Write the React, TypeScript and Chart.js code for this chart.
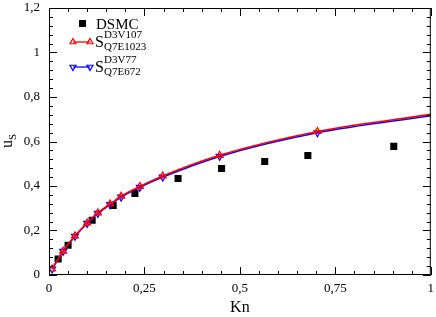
import React, { useEffect, useRef } from "react";
import { Chart, registerables } from "chart.js";

Chart.register(...registerables);

const dsmcKn = [0.024, 0.05, 0.113, 0.168, 0.225, 0.338, 0.452, 0.565, 0.678, 0.903];
const dsmcUs = [0.072, 0.134, 0.246, 0.313, 0.367, 0.434, 0.479, 0.51, 0.537, 0.578];

const redKn = [0.008, 0.037, 0.068, 0.1, 0.128, 0.16, 0.189, 0.238, 0.298, 0.447, 0.703, 1.0];
const redUs = [0.027, 0.107, 0.176, 0.234, 0.279, 0.319, 0.354, 0.398, 0.445, 0.538, 0.645, 0.722];

const blueKn = [0.008, 0.037, 0.068, 0.1, 0.128, 0.16, 0.189, 0.238, 0.298, 0.447, 0.703, 1.0];
const blueUs = [0.027, 0.106, 0.174, 0.232, 0.277, 0.316, 0.35, 0.394, 0.44, 0.533, 0.639, 0.716];

const xTicks = [0, 0.25, 0.5, 0.75, 1];
const yTicks = [0, 0.2, 0.4, 0.6, 0.8, 1, 1.2];

const FONT = '"Liberation Serif", "Times New Roman", serif';

const fmt = (v: number) => Number(v.toFixed(2)).toString().replace(".", ",");

function tri(ctx: CanvasRenderingContext2D, x: number, y: number, r: number, down: boolean) {
  const h = r * 1.5;
  const w = r * Math.sqrt(3);
  ctx.beginPath();
  if (!down) {
    ctx.moveTo(x, y - r);
    ctx.lineTo(x + w / 2, y + h - r);
    ctx.lineTo(x - w / 2, y + h - r);
  } else {
    ctx.moveTo(x, y + r);
    ctx.lineTo(x + w / 2, y - h + r);
    ctx.lineTo(x - w / 2, y - h + r);
  }
  ctx.closePath();
  ctx.stroke();
}

const framePlugin = {
  id: "frame",
  afterDraw(chart: any) {
    const ctx: CanvasRenderingContext2D = chart.ctx;
    const { left, right, top, bottom } = chart.chartArea;
    const xs = chart.scales.x;
    const ys = chart.scales.y;
    ctx.save();
    ctx.strokeStyle = "#000";
    ctx.lineWidth = 1;
    ctx.strokeRect(left + 0.5, top + 0.5, right - left - 1, bottom - top - 1);
    ctx.beginPath();
    for (let i = 0; i <= 20; i++) {
      const v = i * 0.05;
      const major = i % 5 === 0;
      const len = major ? 8 : 4;
      const px = Math.round(xs.getPixelForValue(v)) + 0.5;
      ctx.moveTo(px, bottom);
      ctx.lineTo(px, bottom - len);
      ctx.moveTo(px, top);
      ctx.lineTo(px, top + len);
    }
    for (let i = 0; i <= 30; i++) {
      const v = i * 0.04;
      const major = i % 5 === 0;
      const len = major ? 8 : 4;
      const py = Math.round(ys.getPixelForValue(v)) + 0.5;
      ctx.moveTo(left, py);
      ctx.lineTo(left + len, py);
      ctx.moveTo(right, py);
      ctx.lineTo(right - len, py);
    }
    ctx.stroke();

    // Y axis title u_S
    ctx.save();
    ctx.translate(12, 142);
    ctx.rotate(-Math.PI / 2);
    ctx.fillStyle = "#000";
    ctx.textBaseline = "alphabetic";
    ctx.textAlign = "left";
    ctx.font = `16px ${FONT}`;
    ctx.fillText("u", -6, 0);
    const uw = ctx.measureText("u").width;
    ctx.font = `11px ${FONT}`;
    ctx.fillText("S", -6 + uw, 4);
    ctx.restore();

    // Legend
    ctx.fillStyle = "#000";
    ctx.textAlign = "left";
    ctx.textBaseline = "alphabetic";
    ctx.fillRect(79, 20, 7, 7);
    ctx.font = `15px ${FONT}`;
    ctx.fillText("DSMC", 96, 29);

    const entries = [
      { color: "#ff0000", y: 42, base: 47, sup: "D3V107", sub: "Q7E1023", down: false },
      { color: "#0000ff", y: 67, base: 72, sup: "D3V77", sub: "Q7E672", down: true },
    ];
    for (const e of entries) {
      ctx.strokeStyle = e.color;
      ctx.lineWidth = 1.3;
      ctx.beginPath();
      ctx.moveTo(73, e.y);
      ctx.lineTo(90, e.y);
      ctx.stroke();
      ctx.lineWidth = 1.2;
      tri(ctx, 73, e.y, 3.5, e.down);
      tri(ctx, 90, e.y, 3.5, e.down);
      ctx.fillStyle = "#000";
      ctx.font = `16px ${FONT}`;
      ctx.fillText("S", 95, e.base);
      ctx.font = `11px ${FONT}`;
      ctx.fillText(e.sup, 104, e.base - 9);
      ctx.fillText(e.sub, 104, e.base + 3);
    }
    ctx.restore();
  },
};

export default function App() {
  const ref = useRef<HTMLCanvasElement | null>(null);
  useEffect(() => {
    document.body.style.margin = "0";
    const canvas = ref.current!;
    const markerR = (n: number) => redKn.map((_, i) => (i === n - 1 ? 0 : 4));
    const chart = new Chart(canvas, {
      type: "scatter",
      data: {
        datasets: [
          {
            label: "red",
            data: redKn.map((x, i) => ({ x, y: redUs[i] })),
            showLine: true,
            borderColor: "#ff0000",
            borderWidth: 1.6,
            backgroundColor: "rgba(255,255,255,0)",
            pointBorderColor: "#ff0000",
            pointBorderWidth: 1.2,
            pointStyle: "triangle",
            pointRadius: markerR(redKn.length),
            cubicInterpolationMode: "monotone",
          } as any,
          {
            label: "blue",
            data: blueKn.map((x, i) => ({ x, y: blueUs[i] })),
            showLine: true,
            borderColor: "#0000ff",
            borderWidth: 1.6,
            backgroundColor: "rgba(255,255,255,0)",
            pointBorderColor: "#0000ff",
            pointBorderWidth: 1.2,
            pointStyle: "triangle",
            pointRotation: 180,
            pointRadius: markerR(blueKn.length),
            cubicInterpolationMode: "monotone",
          } as any,
          {
            label: "DSMC",
            data: dsmcKn.map((x, i) => ({ x, y: dsmcUs[i] })),
            showLine: false,
            pointStyle: "rect",
            pointRadius: 5,
            backgroundColor: "#000",
            borderColor: "#000",
            borderWidth: 0,
          } as any,
        ],
      },
      options: {
        animation: false,
        responsive: false,
        maintainAspectRatio: false,
        layout: { padding: { top: 8, right: 5, left: 0, bottom: 0 } },
        plugins: { legend: { display: false }, tooltip: { enabled: false } },
        scales: {
          x: {
            type: "linear",
            min: 0,
            max: 1,
            afterBuildTicks: (s: any) => {
              s.ticks = xTicks.map((v) => ({ value: v }));
            },
            afterFit: (s: any) => {
              s.height = 42;
              s.paddingLeft = 0;
              s.paddingRight = 0;
            },
            ticks: {
              callback: (v: any) => fmt(Number(v)),
              color: "#000",
              font: { family: FONT, size: 13 },
              padding: 6,
              maxRotation: 0,
            },
            grid: { display: false, drawTicks: false },
            border: { display: false },
            title: { display: true, text: "Kn", color: "#000", font: { family: FONT, size: 16 }, padding: { top: 0, bottom: 0 } },
          },
          y: {
            type: "linear",
            min: 0,
            max: 1.2,
            afterBuildTicks: (s: any) => {
              s.ticks = yTicks.map((v) => ({ value: v }));
            },
            afterFit: (s: any) => {
              s.width = 49;
              s.paddingTop = 0;
              s.paddingBottom = 0;
            },
            ticks: {
              callback: (v: any) => fmt(Number(v)),
              color: "#000",
              font: { family: FONT, size: 13 },
              padding: 9,
            },
            grid: { display: false, drawTicks: false },
            border: { display: false },
          },
        },
      },
      plugins: [framePlugin],
    } as any);
    return () => chart.destroy();
  }, []);
  return (
    <div style={{ position: "relative", width: 436, height: 317 }}>
      <canvas ref={ref} width={436} height={317} style={{ display: "block", width: 436, height: 317 }} />
    </div>
  );
}
